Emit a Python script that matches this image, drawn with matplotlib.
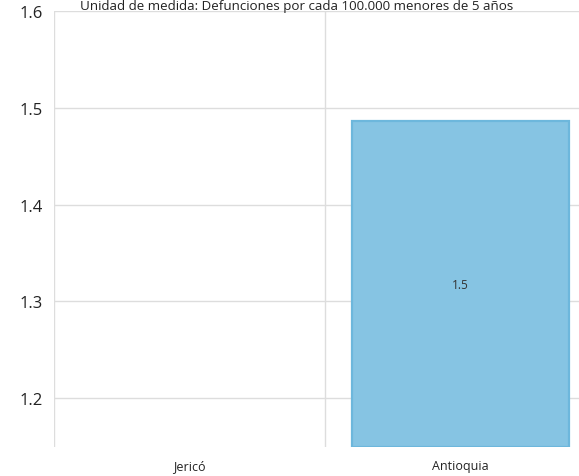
import matplotlib
matplotlib.use("Agg")
import matplotlib.pyplot as plt
import numpy as np

categories = ["Jericó", "Antioquia"]
values = [np.nan, 1.486]
value_labels = ["", "1.5"]
y_ticks = [1.2, 1.3, 1.4, 1.5, 1.6]
subtitle = "Unidad de medida: Defunciones por cada 100.000 menores de 5 años"

plt.rcParams["font.family"] = ["Open Sans", "DejaVu Sans"]

W, H = 579, 477
fig = plt.figure(figsize=(W / 100, H / 100), dpi=100)
left, right, top, bottom = 54, 596, 12, 448
ax = fig.add_axes([left / W, (H - bottom) / H, (right - left) / W, (bottom - top) / H])

x = np.arange(len(categories))
ymin = 1.1495
heights = [v - ymin if not np.isnan(v) else 0 for v in values]
bars = ax.bar(x, heights, bottom=ymin, width=0.8, color="#86C4E3",
              edgecolor="#6DB7DC", linewidth=1.6, zorder=3)
for i, v in enumerate(values):
    if np.isnan(v):
        bars[i].set_visible(False)
    else:
        ax.text(x[i], (ymin + v) / 2, value_labels[i], ha="center", va="center",
                fontsize=8.5, color="#333333", zorder=4)

ax.set_xlim(-0.5, len(categories) - 0.5)
ax.set_ylim(ymin, 1.6)
ax.set_yticks(y_ticks)
ax.set_yticklabels([f"{t:.1f}" for t in y_ticks], fontsize=12, color="#222222")
ax.set_xticks(x)
ax.set_xticklabels(categories, fontsize=9, color="#222222")
ax.tick_params(axis="both", length=0)
ax.tick_params(axis="y", pad=8)
ax.tick_params(axis="x", pad=12)
for lbl in ax.get_xticklabels():
    lbl.set_y(0.0)
ax.tick_params(axis="x", pad=9)

for s in ax.spines.values():
    s.set_visible(False)
ax.grid(axis="y", color="#DDDDDD", linewidth=1, zorder=0)
for xv in np.arange(-0.5, len(categories), 1.0):
    ax.axvline(xv, color="#DDDDDD", linewidth=1, zorder=0)

fig.text(297 / W, 1.0, subtitle, ha="center", va="top", fontsize=9.6, color="#222222")

fig.savefig("out.png", dpi=100)
